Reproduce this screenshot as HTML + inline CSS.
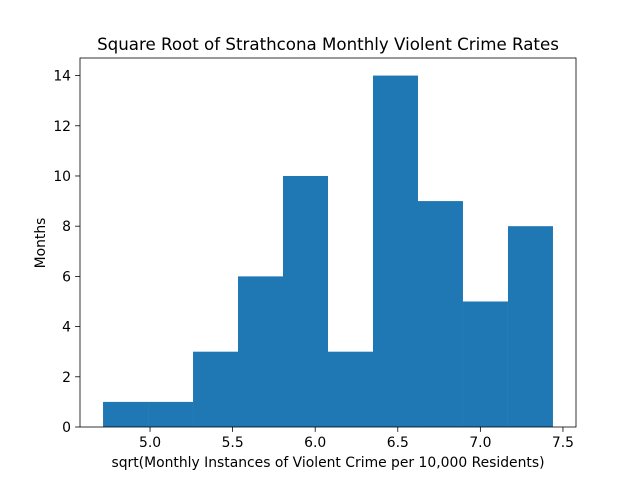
<!DOCTYPE html>
<html><head><meta charset="utf-8"><style>
html,body{margin:0;padding:0;background:#fff;}
svg text{font-family:"DejaVu Sans","Liberation Sans",sans-serif;fill:#000;}
</style></head><body>
<svg id="chart" width="640" height="480" viewBox="0 0 640 480">
<rect width="640" height="480" fill="#fff"/>
<g id="bars"></g>
<g id="axes"></g>
<text x="328" y="50" font-size="16.67" text-anchor="middle">Square Root of Strathcona Monthly Violent Crime Rates</text>
<text x="328" y="467" font-size="13.9" text-anchor="middle">sqrt(Monthly Instances of Violent Crime per 10,000 Residents)</text>
<text transform="translate(45,243) rotate(-90)" font-size="13.9" text-anchor="middle">Months</text>
</svg>
<script>
const binStart = 4.7155;
const binWidth = 0.2724;
const counts = [1, 1, 3, 6, 10, 3, 14, 9, 5, 8];
const xTicks = [5.0, 5.5, 6.0, 6.5, 7.0, 7.5];
const xTickLabels = ["5.0", "5.5", "6.0", "6.5", "7.0", "7.5"];
const yTicks = [0, 2, 4, 6, 8, 10, 12, 14];

const L = 80, R = 576, T = 58, B = 427;
const xMin = 4.576, xMax = 7.579, yMax = 14.7;
const sx = v => L + (v - xMin) / (xMax - xMin) * (R - L);
const sy = v => B - v / yMax * (B - T);
const NS = "http://www.w3.org/2000/svg";
const bars = document.getElementById('bars');
const axes = document.getElementById('axes');

counts.forEach((c, i) => {
  const x0 = sx(binStart + i * binWidth), x1 = sx(binStart + (i + 1) * binWidth);
  const r = document.createElementNS(NS, 'rect');
  r.setAttribute('x', x0); r.setAttribute('y', sy(c));
  r.setAttribute('width', x1 - x0); r.setAttribute('height', B - sy(c));
  r.setAttribute('fill', '#1f77b4');
  
  
  bars.appendChild(r);
});

const frame = document.createElementNS(NS, 'rect');
frame.setAttribute('x', L); frame.setAttribute('y', T);
frame.setAttribute('width', R - L); frame.setAttribute('height', B - T);
frame.setAttribute('fill', 'none'); frame.setAttribute('stroke', '#000'); frame.setAttribute('stroke-width', '0.8');


axes.appendChild(frame);

xTicks.forEach((v, i) => {
  const x = sx(v);
  const l = document.createElementNS(NS, 'line');
  l.setAttribute('x1', x); l.setAttribute('x2', x); l.setAttribute('y1', B); l.setAttribute('y2', B + 4.9);
  l.setAttribute('stroke', '#000'); l.setAttribute('stroke-width', '0.8');
  
  
  axes.appendChild(l);
  const t = document.createElementNS(NS, 'text');
  t.setAttribute('x', x); t.setAttribute('y', B + 20); t.setAttribute('font-size', '13.9'); t.setAttribute('text-anchor', 'middle');
  t.textContent = xTickLabels[i];
  
  
  axes.appendChild(t);
});

yTicks.forEach(v => {
  const y = sy(v);
  const l = document.createElementNS(NS, 'line');
  l.setAttribute('x1', L - 4.9); l.setAttribute('x2', L); l.setAttribute('y1', y); l.setAttribute('y2', y);
  l.setAttribute('stroke', '#000'); l.setAttribute('stroke-width', '0.8');
  
  
  axes.appendChild(l);
  const t = document.createElementNS(NS, 'text');
  t.setAttribute('x', L - 9); t.setAttribute('y', y + 5); t.setAttribute('font-size', '13.9'); t.setAttribute('text-anchor', 'end');
  t.textContent = String(v);
  
  
  axes.appendChild(t);
});
</script>
</body></html>
